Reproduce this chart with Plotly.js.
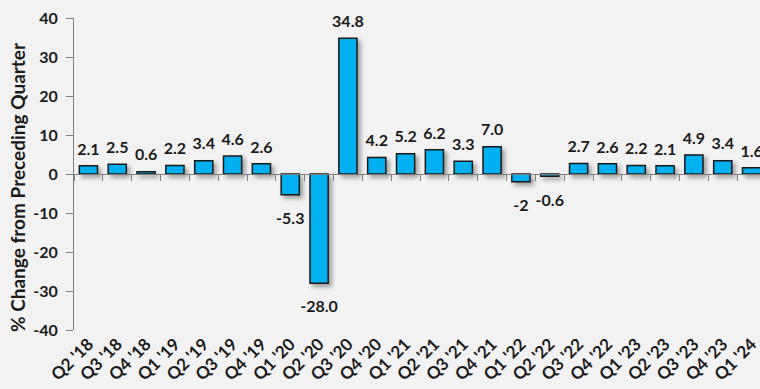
<!DOCTYPE html>
<html>
<head>
<meta charset="utf-8">
<script src="https://cdn.plot.ly/plotly-3.0.1.min.js"></script>
<style>
html,body{margin:0;padding:0;background:#f2f2f2;overflow:hidden;}
#chart{width:760px;height:389px;}
.barlayer .trace path{filter:drop-shadow(3px 3px 2px rgba(0,0,0,0.35));}
</style>
</head>
<body>
<div id="chart"></div>
<script>
const quarters = ["Q2 '18","Q3 '18","Q4 '18","Q1 '19","Q2 '19","Q3 '19","Q4 '19","Q1 '20","Q2 '20","Q3 '20","Q4 '20","Q1 '21","Q2 '21","Q3 '21","Q4 '21","Q1 '22","Q2 '22","Q3 '22","Q4 '22","Q1 '23","Q2 '23","Q3 '23","Q4 '23","Q1 '24"];
const changes = [2.1,2.5,0.6,2.2,3.4,4.6,2.6,-5.3,-28.0,34.8,4.2,5.2,6.2,3.3,7.0,-2,-0.6,2.7,2.6,2.2,2.1,4.9,3.4,1.6];
const valueLabels = ["2.1","2.5","0.6","2.2","3.4","4.6","2.6","-5.3","-28.0","34.8","4.2","5.2","6.2","3.3","7.0","-2","-0.6","2.7","2.6","2.2","2.1","4.9","3.4","1.6"];
const yTicks = [-40,-30,-20,-10,0,10,20,30,40];
const yTitle = '% Change from Preceding Quarter';

const FONT = "Lato, 'Open Sans', sans-serif";

const data = [
  {
    type: 'bar',
    x: quarters,
    y: changes,
    cliponaxis: false,
    marker: {color: '#00b0f0', line: {color: '#1a1a1a', width: 1.5}},
    hoverinfo: 'skip'
  },
  {
    type: 'scatter',
    mode: 'markers+text',
    x: quarters,
    y: changes,
    text: valueLabels,
    textposition: changes.map(v => v < 0 ? 'bottom center' : 'top center'),
    textfont: {family: FONT, size: 16, color: '#1a1a1a', weight: 'bold'},
    marker: {size: changes.map(v => v < 0 ? 26 : 10), color: 'rgba(0,0,0,0)', opacity: 0, line: {width: 0}},
    cliponaxis: false,
    hoverinfo: 'skip',
    showlegend: false
  },
  {
    type: 'scatter',
    mode: 'markers',
    x: quarters,
    y: quarters.map(() => null),
    xaxis: 'x2',
    hoverinfo: 'skip',
    showlegend: false
  }
];

const layout = {
  width: 766,
  height: 389,
  margin: {l: 74, r: 0, t: 18, b: 59},
  paper_bgcolor: '#f2f2f2',
  plot_bgcolor: '#f2f2f2',
  showlegend: false,
  bargap: 0.37,
  font: {family: FONT, color: '#1a1a1a'},
  xaxis: {
    type: 'category',
    categoryarray: quarters,
    range: [-0.5, quarters.length - 0.5],
    showline: false,
    showgrid: false,
    zeroline: false,
    ticks: '',
    tickangle: -45,
    tickfont: {family: FONT, size: 17, color: '#1a1a1a', weight: 'bold'},
    fixedrange: true
  },
  xaxis2: {
    type: 'category',
    categoryarray: quarters,
    range: [-0.5, quarters.length - 0.5],
    overlaying: 'x',
    anchor: 'free',
    position: 0.5,
    side: 'bottom',
    showline: true,
    linecolor: '#7f7f7f',
    linewidth: 1,
    ticks: 'outside',
    tickson: 'boundaries',
    ticklen: 6,
    tickcolor: '#7f7f7f',
    showticklabels: false,
    showgrid: false,
    zeroline: false,
    fixedrange: true
  },
  yaxis: {
    range: [-40, 40],
    tickvals: yTicks,
    ticktext: yTicks.map(String),
    showline: true,
    linecolor: '#7f7f7f',
    linewidth: 1,
    ticks: 'outside',
    ticklen: 7,
    tickcolor: '#7f7f7f',
    ticklabelstandoff: 5,
    showgrid: false,
    zeroline: false,
    tickfont: {family: FONT, size: 16, color: '#1a1a1a', weight: 'bold'},
    fixedrange: true
  },
  annotations: [{
    text: yTitle,
    textangle: -90,
    xref: 'paper', yref: 'paper',
    x: 0, y: 0.5,
    xanchor: 'center', yanchor: 'middle',
    xshift: -57, yshift: -13,
    showarrow: false,
    font: {family: FONT, size: 19, color: '#1a1a1a', weight: 'bold'}
  }]
};

Plotly.newPlot('chart', data, layout, {displayModeBar: false, staticPlot: true});
</script>
</body>
</html>
